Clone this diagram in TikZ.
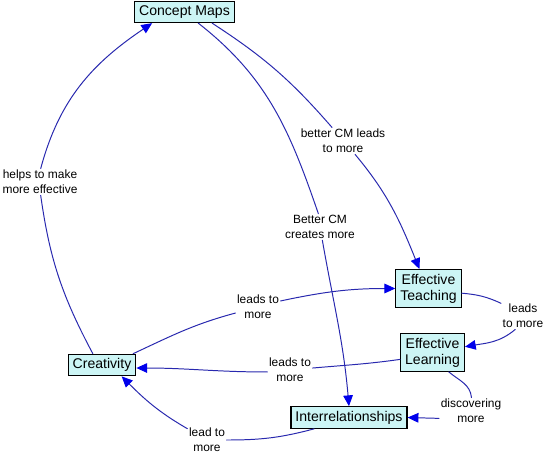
\documentclass[tikz,border=0pt]{standalone}
\usepackage{fontspec}
\setmainfont{Liberation Sans}
\usetikzlibrary{arrows.meta}

\begin{document}
\begin{tikzpicture}[
    x=0.025cm, y=-0.025cm,
    line cap=round,
    concept/.style={draw=black, line width=0.8pt, fill=boxfill,
        inner xsep=3.2pt, inner ysep=3pt, align=center,
        font=\fontsize{10}{11.5}\selectfont},
    linklabel/.style={inner sep=1pt, align=center,
        font=\fontsize{8.5}{10.5}\selectfont},
    linkline/.style={draw=linkblue, line width=0.7pt},
    linkarrow/.style={linkline, -{Triangle[length=2.7mm,width=2.4mm,color=tipblue]}},
]

\definecolor{boxfill}{RGB}{204,245,245}
\definecolor{linkblue}{RGB}{40,40,175}
\definecolor{tipblue}{RGB}{0,0,235}

\fill[white] (0,0) rectangle (546,455);
\useasboundingbox (0,0) rectangle (546,455);

% ---------- concepts ----------
\node[concept] (cm) at (184.5,12)    {Concept Maps};
\node[concept] (et) at (428.5,288.5) {Effective\\Teaching};
\node[concept] (el) at (432.5,352.5) {Effective\\Learning};
\node[concept] (cr) at (102,365)     {Creativity};
\node[concept] (ir) at (349,417.5)   {Interrelationships};

% ---------- link phrases ----------
\node[linklabel] (lbLeadsMore)   at (343,141) {better CM leads\\to more};
\node[linklabel] (lbCreatesMore) at (320,227) {Better CM\\creates more};
\node[linklabel] (lbHelps)       at (40,182)  {helps to make\\more effective};
\node[linklabel] (lbCrEt)        at (258,307) {leads to\\more};
\node[linklabel] (lbEtEl)        at (523,316) {leads\\to more};
\node[linklabel] (lbElCr)        at (290,370) {leads to\\more};
\node[linklabel] (lbDiscover)    at (471,411) {discovering\\more};
\node[linklabel] (lbIrCr)        at (207,440) {lead to\\more};

% ---------- links: concept -> phrase -> concept ----------
\draw[linkline]  (cm.-22) to[out=-33,in=131] (lbLeadsMore.129);
\draw[linkarrow] (lbLeadsMore.-48) to[out=-50,in=112] (et.115);

\draw[linkline]  (cm.-39) to[out=-38,in=109] (lbCreatesMore.97);
\draw[linkarrow] (lbCreatesMore.-80) to[out=-80,in=95] (ir.north);

\draw[linkline]  (cr.129) to[out=118,in=-82] (lbHelps.-87);
\draw[linkarrow] (lbHelps.87) to[out=75,in=-146] (cm.199);

\draw[linkline]  (cr.20) to[out=25,in=195] (lbCrEt.195);
\draw[linkarrow] (lbCrEt.15) to[out=12,in=180] (et.west);

\draw[linkline]  (et.-8) to[out=-5,in=155] (lbEtEl.150);
\draw[linkarrow] (lbEtEl.-120) to[out=-140,in=10] (el.10);

\draw[linkline]  (el.192) to[out=188,in=5] (lbElCr.5);
\draw[linkarrow] (lbElCr.185) to[out=180,in=0] (cr.-5);

\draw[linkline]  (el.-50) to[out=-40,in=95] (lbDiscover.88);
\draw[linkarrow] (lbDiscover.193) -- (ir.east);

\draw[linkline]  (ir.-162) to[out=195,in=0] (lbIrCr.east);
\draw[linkarrow] (lbIrCr.150) to[out=150,in=-45] (cr.-30);

\end{tikzpicture}
\end{document}
